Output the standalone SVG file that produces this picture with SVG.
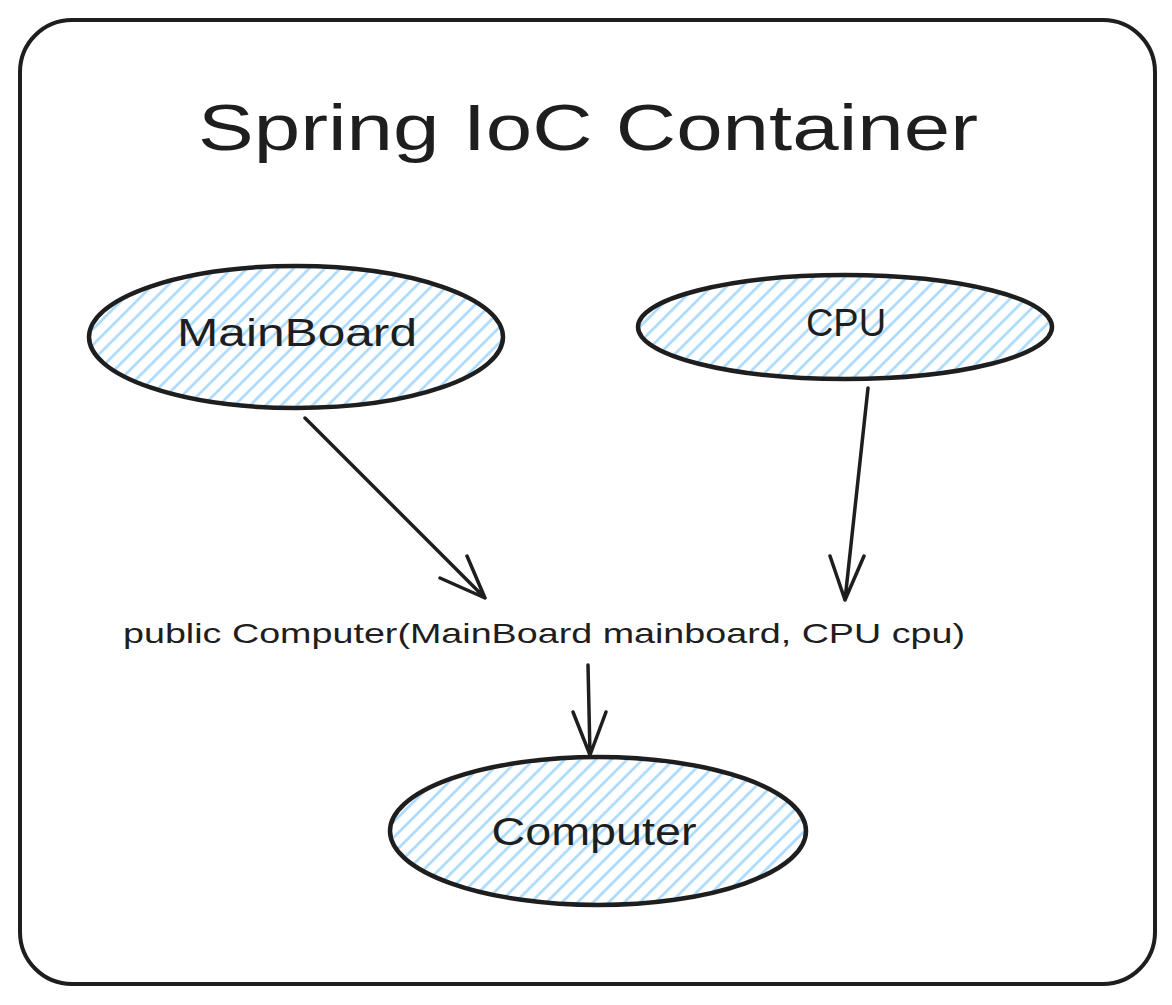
<svg xmlns="http://www.w3.org/2000/svg" width="1172" height="1005" viewBox="0 0 1172 1005">
<style>
.txt{font-family:"Liberation Sans","DejaVu Sans",sans-serif;fill:#1e1e1e;text-anchor:middle}
.node{stroke:#1e1e1e;stroke-width:4.5;fill:url(#hatch)}
.conn{stroke:#1e1e1e;stroke-width:3.5;fill:none;stroke-linecap:round;stroke-linejoin:round}
</style>
<defs>
<pattern id="hatch" patternUnits="userSpaceOnUse" width="11" height="11" patternTransform="rotate(45)">
<rect width="11" height="11" fill="#ffffff"/>
<line x1="1.5" y1="0" x2="1.5" y2="11" stroke="#a5d8ff" stroke-width="2.5"/>
</pattern>
</defs>
<rect width="1172" height="1005" fill="#ffffff"/>
<g id="container">
<rect x="20" y="20" width="1135" height="964" rx="52" fill="none" stroke="#1e1e1e" stroke-width="4"/>
<text class="txt" x="588" y="150" font-size="64" textLength="780" lengthAdjust="spacingAndGlyphs">Spring IoC Container</text>
</g>
<g id="mainboard">
<ellipse class="node" cx="296" cy="337" rx="207" ry="71"/>
<text class="txt" x="297" y="346" font-size="38" textLength="240" lengthAdjust="spacingAndGlyphs">MainBoard</text>
</g>
<g id="cpu">
<ellipse class="node" cx="845" cy="327" rx="207" ry="52"/>
<text class="txt" x="846" y="336" font-size="38">CPU</text>
</g>
<g id="computer">
<ellipse class="node" cx="598" cy="831" rx="208" ry="74"/>
<text class="txt" x="594" y="845" font-size="38" textLength="205" lengthAdjust="spacingAndGlyphs">Computer</text>
</g>
<g id="constructor">
<text class="txt" x="544" y="643" font-size="28" textLength="842" lengthAdjust="spacingAndGlyphs">public Computer(MainBoard mainboard, CPU cpu)</text>
</g>
<g id="connectors">
<path class="conn" d="M305 418 L485 598 M485 598 L440 578 M485 598 L467 556"/>
<path class="conn" d="M868 388 L845 600 M845 600 L830 556 M845 600 L864 556"/>
<path class="conn" d="M588 665 L590 755 M590 755 L573 712 M590 755 L606 712"/>
</g>
</svg>
